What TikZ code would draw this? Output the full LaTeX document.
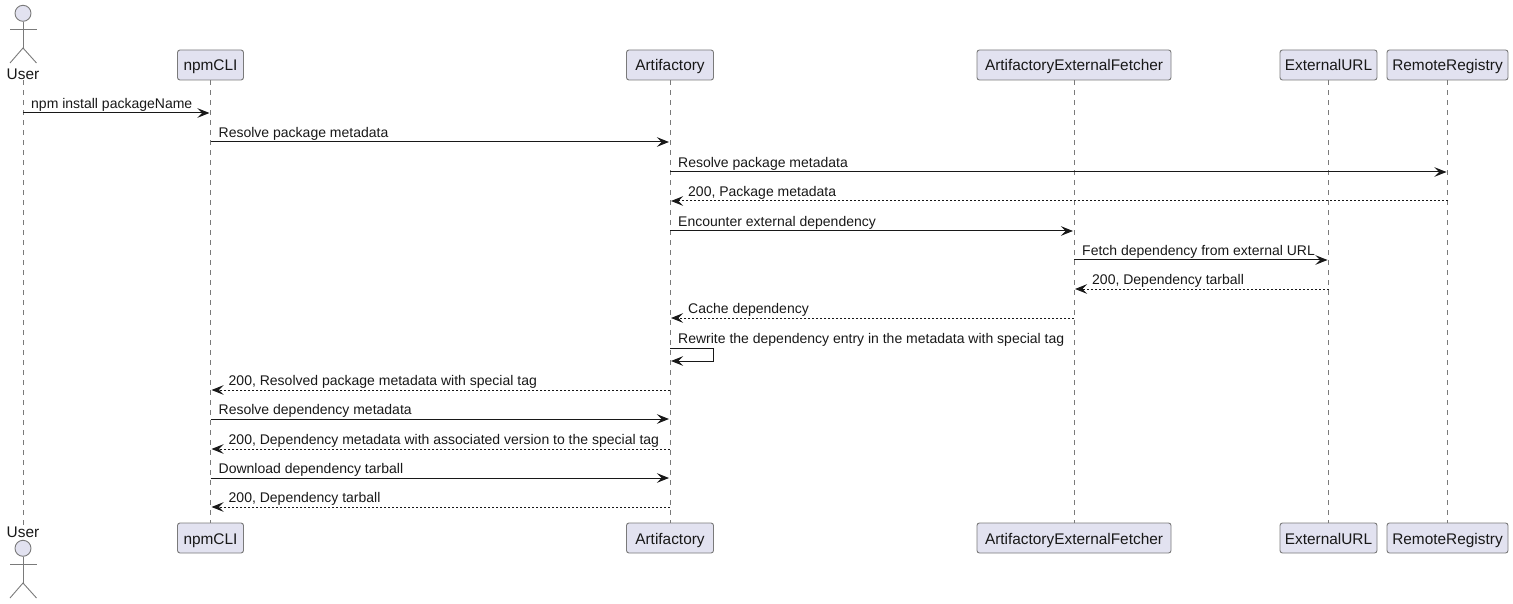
\documentclass[tikz,border=0pt]{standalone}
\usepackage{fontspec}
\setmainfont{Liberation Sans}
\usetikzlibrary{arrows.meta}
\definecolor{kfill}{HTML}{E2E2F0}
\definecolor{kline}{HTML}{7A7A7A}
\definecolor{kink}{HTML}{181818}
\tikzset{
  partbox/.style={draw=kline,fill=kfill,rounded corners=2.5pt,line width=0.9pt,minimum height=30pt,inner sep=0pt,text height=15pt,text depth=3pt,text=kink,font=\fontsize{15.4}{17}\selectfont},
  lifeline/.style={draw=kline,line width=0.8pt,dash pattern=on 5pt off 5pt},
  msg/.style={draw=kink,line width=1pt,-{Stealth[length=12pt,width=9.5pt,inset=4.5pt]},shorten >=1pt},
  reply/.style={msg,dash pattern=on 2pt off 2pt},
  msglabel/.style={anchor=base west,inner sep=0pt,text=kink,font=\fontsize{14}{16}\selectfont},
  actorlabel/.style={anchor=base,inner sep=0pt,text=kink,font=\fontsize{15.4}{17}\selectfont},
  actorhead/.style={circle,draw=kline,fill=kfill,line width=0.9pt,minimum size=16pt,inner sep=0pt},
  limb/.style={draw=kline,line width=0.9pt}
}
\begin{document}
\begin{tikzpicture}[x=1pt,y=-1pt]
\useasboundingbox (0,0) rectangle (1513,604);
% participants, top and bottom
\foreach \kname/\kx/\kw/\klb in {npm/210.5/66/npmCLI,art/670/87/Artifactory,fet/1074/194/ArtifactoryExternalFetcher,url/1328.5/97/ExternalURL,reg/1447.5/121/RemoteRegistry}{
  \node[partbox,minimum width=\kw pt] (\kname top) at (\kx,65) {\klb};
  \node[partbox,minimum width=\kw pt] (\kname bot) at (\kx,538) {\klb};
}
% actor
\node[actorlabel] (usertop) at (23,80) {User};
\node[actorlabel] (userbot) at (23,537) {User};
\node[actorhead] (headtop) at (23,13.3) {};
\node[actorhead] (headbot) at (23,548.3) {};
\foreach \kpos/\kdy in {top/0,bot/535}{
  \coordinate (neck\kpos) at (23,48+\kdy);
  \draw[limb] (head\kpos.south) -- (neck\kpos);
  \draw[limb] (10,29+\kdy) -- (36.5,29+\kdy);
  \draw[limb] (10,63+\kdy) -- (neck\kpos) -- (36.5,63+\kdy);
}
% lifelines
\draw[lifeline] (usertop.south) -- (userbot.north);
\foreach \kname in {npm,art,fet,url,reg}{\draw[lifeline] (\kname top) -- (\kname bot);}
% messages
\foreach \ky/\kfrom/\kto/\ksty/\klb in {
  113/usertop/npmtop/msg/npm install packageName,
  142/npmtop/arttop/msg/Resolve package metadata,
  172/arttop/regtop/msg/Resolve package metadata,
  231/arttop/fettop/msg/Encounter external dependency,
  260/fettop/urltop/msg/Fetch dependency from external URL,
  419/npmtop/arttop/msg/Resolve dependency metadata,
  478/npmtop/arttop/msg/Download dependency tarball}{
  \coordinate (a\ky) at (\kfrom |- 0,\ky);
  \coordinate (b\ky) at (\kto |- 0,\ky);
  \draw[\ksty] (a\ky) -- (b\ky);
  \node[msglabel] (m\ky) at ([xshift=8pt,yshift=4.3pt]a\ky) {\klb};
}
\foreach \ky/\kfrom/\kto/\klb in {
  201/regtop/arttop/{200, Package metadata},
  289/urltop/fettop/{200, Dependency tarball},
  318/fettop/arttop/Cache dependency,
  390/arttop/npmtop/{200, Resolved package metadata with special tag},
  449/arttop/npmtop/{200, Dependency metadata with associated version to the special tag},
  507/arttop/npmtop/{200, Dependency tarball}}{
  \coordinate (a\ky) at (\kfrom |- 0,\ky);
  \coordinate (b\ky) at (\kto |- 0,\ky);
  \draw[reply] (a\ky) -- (b\ky);
  \node[msglabel] (m\ky) at ([xshift=18pt,yshift=4.3pt]b\ky) {\klb};
}
% self message
\coordinate (selfa) at (arttop |- 0,348);
\coordinate (selfb) at (arttop |- 0,361);
\draw[msg] (selfa) -- ++(43,0) |- (selfb);
\node[msglabel] (mself) at ([xshift=8pt,yshift=4.3pt]selfa) {Rewrite the dependency entry in the metadata with special tag};
\end{tikzpicture}
\end{document}
